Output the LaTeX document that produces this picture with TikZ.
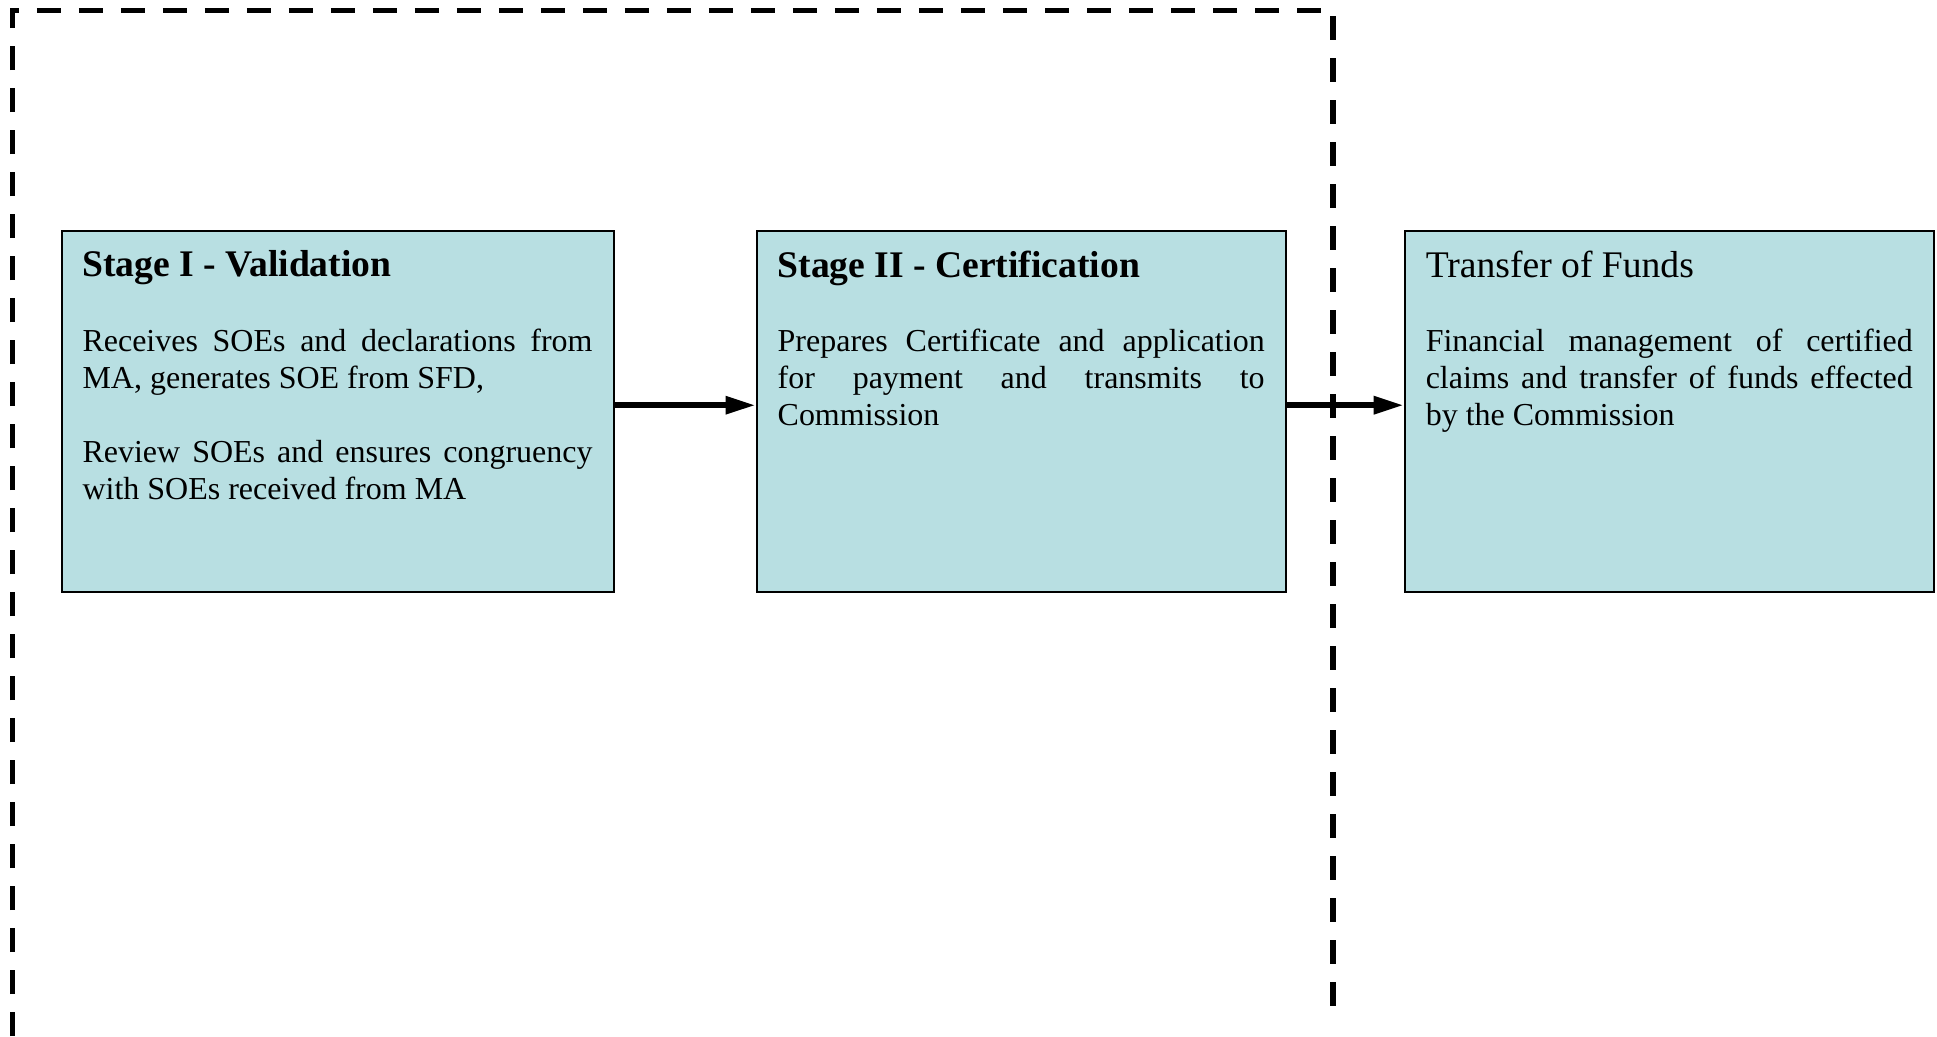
\documentclass[tikz,border=0pt]{standalone}
\usepackage{fontspec}
\setmainfont{Liberation Serif}
\usetikzlibrary{arrows.meta, positioning}
\definecolor{stagefill}{RGB}{184, 223, 226}

% title + body text inside a box of fixed height
\newcommand{\stagetext}[3]{%
  \parbox[t][3.207cm][t]{#1}{\tolerance=10000\hbadness=10000
    {\fontsize{10.7}{12}\selectfont #2\par}%
    \vspace{10.7pt}%
    {\fontsize{9.1}{10.5}\selectfont #3\par}}}

\begin{document}
\begin{tikzpicture}[
    stagebox/.style={rectangle, draw, line width=0.6pt, fill=stagefill, inner xsep=0.21cm, inner ysep=0.2cm, anchor=north west},
    flowarrow/.style={-{Triangle[length=0.3cm, width=0.17cm]}, line width=1.7pt},
    frameline/.style={line width=1.6pt, dash pattern=on 0.24cm off 0.18cm},
]
\useasboundingbox (0,0) rectangle (19.37,-10.36);

% ============ STAGES ============
\node[stagebox] (stage1) at (0.605,-2.298) {\stagetext{5.1cm}{\textbf{Stage I - Validation}}{%
    Receives SOEs and declarations from\linebreak MA, generates SOE from SFD,\par
    \vspace{10.5pt}%
    Review SOEs and ensures congruency\linebreak with SOEs received from MA}};

\node[stagebox, right=1.41cm of stage1] (stage2) {\stagetext{4.87cm}{\textbf{Stage II - Certification}}{%
    Prepares Certificate and application\linebreak for payment and transmits to\linebreak Commission}};

\node[stagebox, right=1.17cm of stage2] (stage3) {\stagetext{4.87cm}{Transfer of Funds}{%
    Financial management of certified\linebreak claims and transfer of funds effected\linebreak by the Commission}};

% ============ DASHED FRAME ============
\draw[frameline] (0.125,-10.36) -- (0.125,-0.105) -- (13.33,-0.105) -- (13.33,-10.2);

% ============ ARROWS ============
\draw[flowarrow] ([yshift=0.06cm]stage1.east) -- ([yshift=0.06cm]stage2.west);
\draw[flowarrow] ([yshift=0.06cm]stage2.east) -- ([yshift=0.06cm]stage3.west);

\end{tikzpicture}
\end{document}
